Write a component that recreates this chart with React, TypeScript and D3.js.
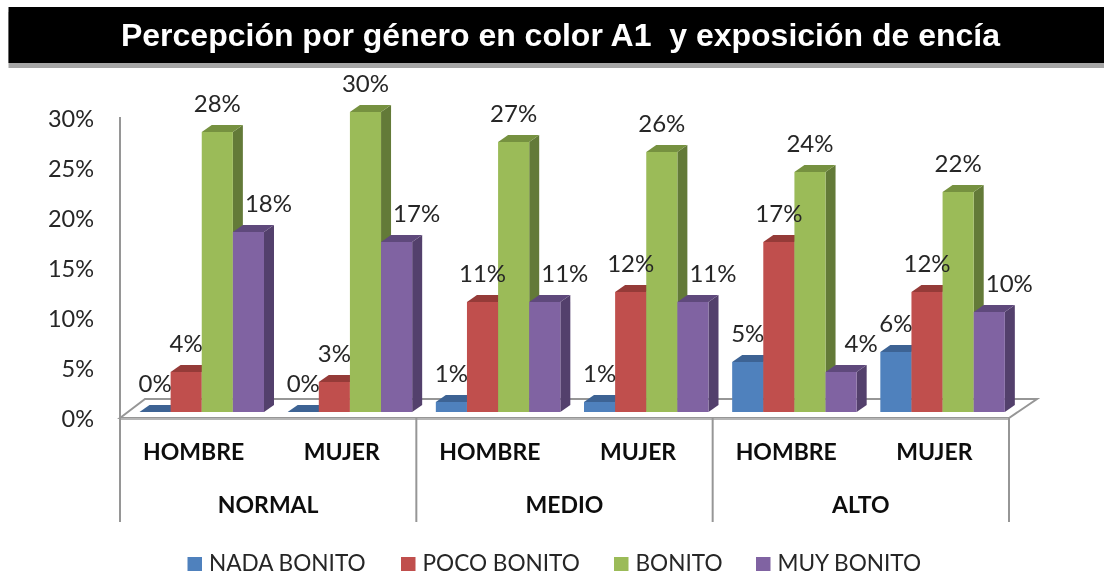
import React from "react";
import * as d3 from "d3";

const title = "Percepción por género en color A1  y exposición de encía";
const levels = ["NORMAL", "MEDIO", "ALTO"];
const genders = ["HOMBRE", "MUJER"];
const seriesNames = ["NADA BONITO", "POCO BONITO", "BONITO", "MUY BONITO"];
const nadaBonito = [0, 0, 1, 1, 5, 6];
const pocoBonito = [4, 3, 11, 12, 17, 12];
const bonito = [28, 30, 27, 26, 24, 22];
const muyBonito = [18, 17, 11, 11, 4, 10];
const seriesValues = [nadaBonito, pocoBonito, bonito, muyBonito];
const yTicks = [0, 5, 10, 15, 20, 25, 30];

const frontColors = ["#4F81BD", "#C0504D", "#9BBB59", "#8064A2"];
const topColors = ["#3C6494", "#953A38", "#76913F", "#5F4A7C"];
const sideColors = ["#355A85", "#84332F", "#647A38", "#533F6C"];
const legendX = [187.5, 401, 614, 756];
const labelShift = [0, 0, 0, 20];

const W = 1104;
const H = 575;
const axisLeft = 120;
const axisRight = 1009;
const depthX = 10;
const depthY = 7;
const floorFront = 418;
const floorBack = 399;
const dividerBottom = 522;
const font = "Lato, Carlito, Calibri, sans-serif";
const grey = "#969696";

const y = d3.scaleLinear().domain([0, 30]).range([412, 112]);
const cells = d3.range(6);
const cellX = d3.scaleBand<number>().domain(cells).range([axisLeft, axisRight]);
const barX = d3
  .scaleBand<number>()
  .domain(d3.range(4))
  .range([19.5, 144]);
const poly = d3.line<[number, number]>().curve(d3.curveLinearClosed);

export default function App() {
  return (
    <svg
      width={W}
      height={H}
      viewBox={`0 0 ${W} ${H}`}
      style={{ position: "absolute", left: 0, top: 0, display: "block", background: "#fff" }}
    >
      <defs>
        <filter id="soft" x="0" y="0" width="100%" height="100%">
          <feGaussianBlur stdDeviation="0.45" />
        </filter>
      </defs>
      <g filter="url(#soft)">
        <rect x={8.5} y={12} width={1095.5} height={56} fill="#a6a6a6" />
        <rect x={8.5} y={7} width={1095.5} height={56} fill="#000" />
        <text
          x={560.5}
          y={46}
          textAnchor="middle"
          fontFamily="'Liberation Sans', Arial, sans-serif"
          fontWeight={700}
          fontSize={32}
          fill="#fff"
          xmlSpace="preserve"
          style={{ whiteSpace: "pre" }}
        >
          {title}
        </text>

        {yTicks.map((t) => (
          <text
            key={t}
            x={94}
            y={y(t) + 15}
            textAnchor="end"
            fontFamily={font}
            fontSize={23.5}
            fill="#262626"
          >
            {t}%
          </text>
        ))}

        {/* floor */}
        <path
          d={
            poly([
              [axisLeft, floorFront],
              [axisLeft + 25, floorBack],
              [axisRight + 28, floorBack],
              [axisRight, floorFront],
            ]) ?? ""
          }
          fill="#fff"
          stroke={grey}
          strokeWidth={2}
        />
        <line x1={axisLeft} x2={axisRight} y1={floorFront + 1} y2={floorFront + 1} stroke="#b5b5b5" strokeWidth={2} />
        <line x1={axisLeft} x2={axisLeft} y1={117} y2={floorFront} stroke={grey} strokeWidth={2} />
        {[0, 2, 4, 6].map((i) => {
          const x = i === 6 ? axisRight : (cellX(i) as number);
          return <line key={i} x1={x} x2={x} y1={floorFront} y2={dividerBottom} stroke={grey} strokeWidth={2} />;
        })}

        {/* bars */}
        {cells.map((c) =>
          seriesValues.map((vals, s) => {
            const x0 = (cellX(c) as number) + (barX(s) as number);
            const x1 = x0 + barX.bandwidth();
            const top = y(vals[c]);
            const base = y(0);
            return (
              <g key={`${c}-${s}`}>
                <path
                  d={
                    poly([
                      [x1, top],
                      [x1 + depthX, top - depthY],
                      [x1 + depthX, base - depthY],
                      [x1, base],
                    ]) ?? ""
                  }
                  fill={sideColors[s]}
                />
                <path
                  d={
                    poly([
                      [x0, top],
                      [x0 + depthX, top - depthY],
                      [x1 + depthX, top - depthY],
                      [x1, top],
                    ]) ?? ""
                  }
                  fill={topColors[s]}
                />
                <rect x={x0} y={top} width={barX.bandwidth()} height={base - top} fill={frontColors[s]} />
              </g>
            );
          })
        )}

        {/* data labels */}
        {cells.map((c) =>
          seriesValues.map((vals, s) => {
            const x0 = (cellX(c) as number) + (barX(s) as number);
            return (
              <text
                key={`${c}-${s}`}
                x={x0 + barX.bandwidth() / 2 + labelShift[s]}
                y={y(vals[c]) - 20}
                textAnchor="middle"
                fontFamily={font}
                fontSize={24}
                fill="#262626"
              >
                {vals[c]}%
              </text>
            );
          })
        )}

        {/* category tiers */}
        {cells.map((c) => (
          <text
            key={c}
            x={(cellX(c) as number) + cellX.bandwidth() / 2 - 0.5}
            y={460}
            textAnchor="middle"
            fontFamily={font}
            fontWeight={700}
            fontSize={23}
            fill="#111"
          >
            {genders[c % 2]}
          </text>
        ))}
        {levels.map((l, i) => (
          <text
            key={l}
            x={(cellX(i * 2) as number) + cellX.bandwidth()}
            y={513}
            textAnchor="middle"
            fontFamily={font}
            fontWeight={700}
            fontSize={23}
            fill="#111"
          >
            {l}
          </text>
        ))}

        {/* legend */}
        {seriesNames.map((n, i) => (
          <g key={n}>
            <rect x={legendX[i]} y={557} width={14.5} height={14} fill={frontColors[i]} />
            <text x={legendX[i] + 21.5} y={571} fontFamily={font} fontSize={22.6} fill="#262626">
              {n}
            </text>
          </g>
        ))}
      </g>
    </svg>
  );
}
